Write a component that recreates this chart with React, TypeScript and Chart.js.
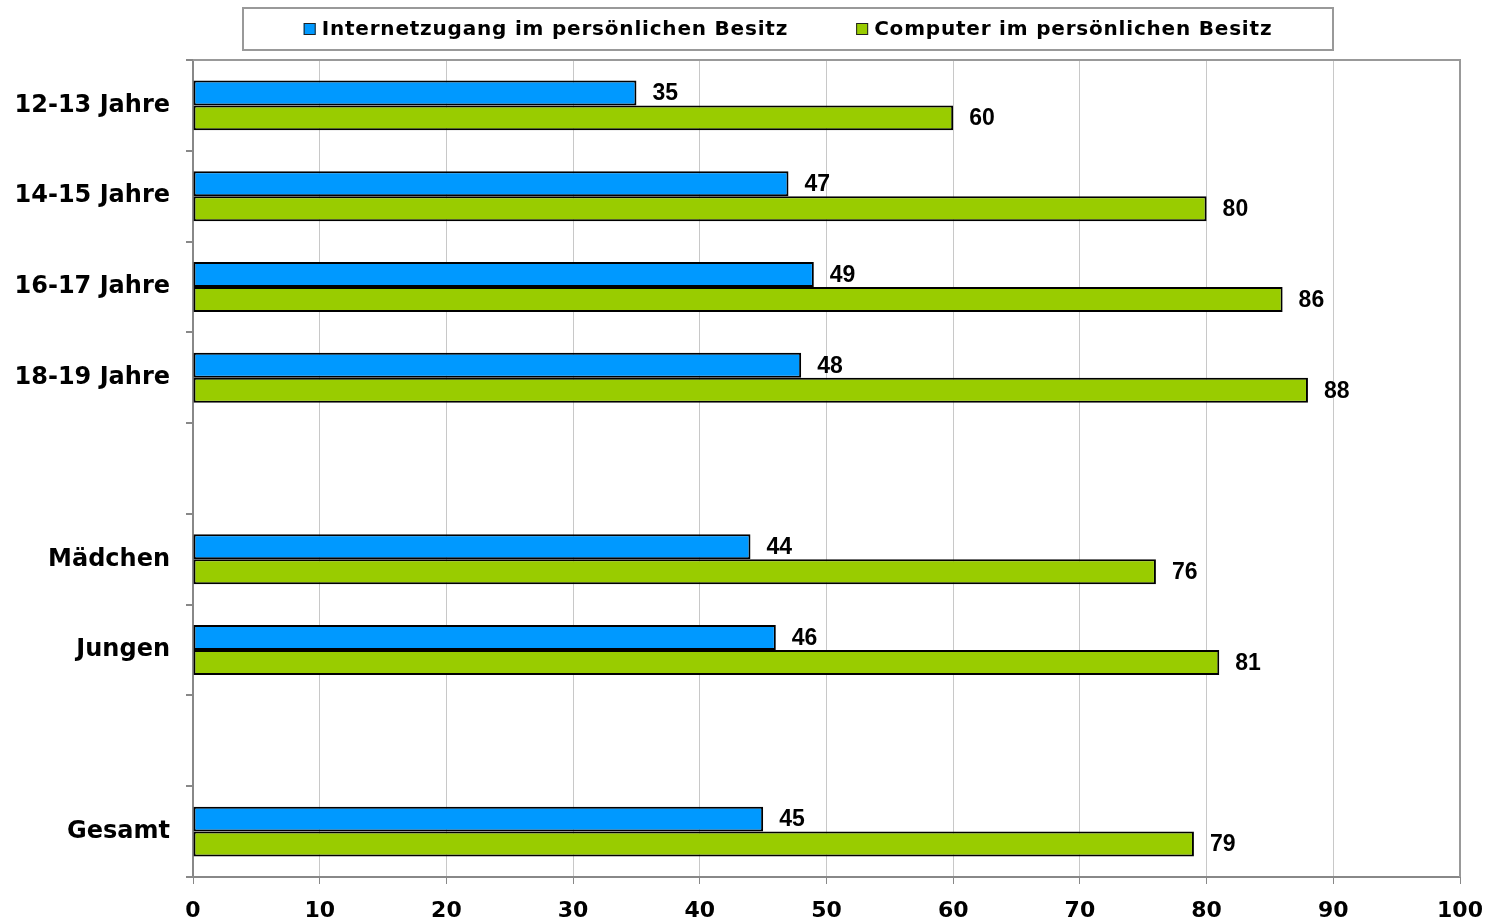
import React, { useEffect, useRef } from "react";
import { Chart, registerables } from "chart.js";

Chart.register(...registerables);

const categories = ["12-13 Jahre", "14-15 Jahre", "16-17 Jahre", "18-19 Jahre", "", "Mädchen", "Jungen", "", "Gesamt"];
const internetValues = [35, 47, 49, 48, null, 44, 46, null, 45];
const computerValues = [60, 80, 86, 88, null, 76, 81, null, 79];
const seriesNames = ["Internetzugang im persönlichen Besitz", "Computer im persönlichen Besitz"];
const seriesColors = ["#0099FF", "#99CC00"];
const xTicks = [0, 10, 20, 30, 40, 50, 60, 70, 80, 90, 100];

const BOLD_SANS = "'DejaVu Sans', Verdana, sans-serif";

const frameAndLabels = {
  id: "frameAndLabels",
  afterDatasetsDraw(chart: any) {
    const ctx = chart.ctx;
    const { top, right } = chart.chartArea;
    ctx.save();
    ctx.strokeStyle = "#999999";
    ctx.lineWidth = 2;
    ctx.beginPath();
    ctx.moveTo(chart.chartArea.left, top);
    ctx.lineTo(right, top);
    ctx.lineTo(right, chart.chartArea.bottom);
    ctx.stroke();
    ctx.fillStyle = "#000";
    ctx.font = "bold 23px 'Liberation Sans', Arial, sans-serif";
    ctx.textAlign = "left";
    ctx.textBaseline = "middle";
    chart.data.datasets.forEach((ds: any, di: number) => {
      const meta = chart.getDatasetMeta(di);
      meta.data.forEach((el: any, i: number) => {
        const v = ds.data[i];
        if (v === null || v === undefined) return;
        ctx.fillText(String(v), el.x + 16, el.y + 1);
      });
    });
    ctx.restore();
  },
  afterDraw(chart: any) {
    const ctx = chart.ctx;
    ctx.save();
    const bx = 243, by = 8, bw = 1090, bh = 42;
    ctx.fillStyle = "#fff";
    ctx.fillRect(bx, by, bw, bh);
    ctx.strokeStyle = "#999999";
    ctx.lineWidth = 2;
    ctx.strokeRect(bx, by, bw, bh);
    ctx.font = "bold 20px " + BOLD_SANS;
    (ctx as any).letterSpacing = "0.8px";
    const box = 12, gap = 6, spacing = 68;
    const widths = seriesNames.map((n) => ctx.measureText(n).width);
    const total = box + gap + widths[0] + spacing + box + gap + widths[1];
    let x = bx + bw / 2 - total / 2;
    const cy = by + bh / 2;
    seriesNames.forEach((name, i) => {
      ctx.fillStyle = seriesColors[i];
      ctx.fillRect(x, cy - box / 2, box, box);
      ctx.strokeStyle = "#222";
      ctx.lineWidth = 1;
      ctx.strokeRect(x + 0.5, cy - box / 2 + 0.5, box - 1, box - 1);
      ctx.fillStyle = "#000";
      ctx.textAlign = "left";
      ctx.textBaseline = "middle";
      ctx.fillText(name, x + box + gap, cy + 1);
      x += box + gap + widths[i] + spacing;
    });
    (ctx as any).letterSpacing = "0px";
    ctx.restore();
  },
};

export default function App() {
  const canvasRef = useRef<HTMLCanvasElement | null>(null);

  useEffect(() => {
    document.body.style.margin = "0";
    const canvas = canvasRef.current;
    if (!canvas) return;
    const chart = new Chart(canvas, {
      type: "bar",
      data: {
        labels: categories,
        datasets: [
          {
            label: seriesNames[0],
            data: internetValues,
            backgroundColor: seriesColors[0],
            borderColor: "#000",
            borderWidth: 2,
            borderSkipped: false,
            categoryPercentage: 0.55,
            barPercentage: 1,
          },
          {
            label: seriesNames[1],
            data: computerValues,
            backgroundColor: seriesColors[1],
            borderColor: "#000",
            borderWidth: 2,
            borderSkipped: false,
            categoryPercentage: 0.55,
            barPercentage: 1,
          },
        ],
      },
      options: {
        indexAxis: "y",
        responsive: false,
        animation: false,
        layout: { padding: { top: 60, right: 35, left: 0, bottom: 0 } },
        plugins: {
          legend: { display: false },
          tooltip: { enabled: false },
        },
        scales: {
          x: {
            min: 0,
            max: 100,
            afterBuildTicks(scale: any) {
              scale.ticks = xTicks.map((v) => ({ value: v }));
            },
            afterFit(scale: any) {
              scale.height = 44;
              scale.paddingLeft = 0;
              scale.paddingRight = 0;
            },
            grid: {
              color: "#c8c8c8",
              tickColor: "#888888",
              tickLength: 7,
              lineWidth: 1,
            },
            border: { display: true, color: "#888888", width: 2 },
            ticks: {
              color: "#000",
              font: { family: BOLD_SANS, size: 22, weight: "bold" },
              padding: 14,
              maxRotation: 0,
            },
          },
          y: {
            afterFit(scale: any) {
              scale.width = 193;
              scale.paddingTop = 0;
              scale.paddingBottom = 0;
            },
            grid: {
              display: true,
              drawOnChartArea: false,
              offset: true,
              color: "#888888",
              tickLength: 7,
              lineWidth: 2,
            },
            border: { display: true, color: "#888888", width: 2 },
            ticks: {
              color: "#000",
              font: { family: BOLD_SANS, size: 24, weight: "bold" },
              padding: 16,
              autoSkip: false,
            },
          },
        },
      },
      plugins: [frameAndLabels],
    } as any);
    return () => chart.destroy();
  }, []);

  return <canvas ref={canvasRef} width={1495} height={921} style={{ display: "block" }} />;
}
